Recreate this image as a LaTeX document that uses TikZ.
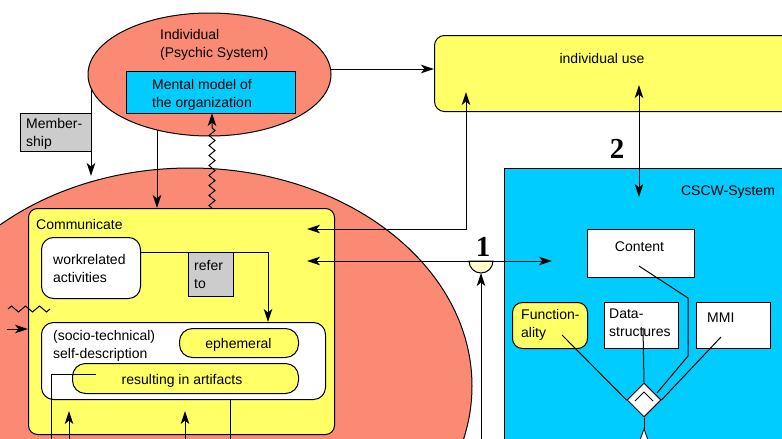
\documentclass[tikz,border=0pt]{standalone}
\usepackage{fontspec}
\setmainfont{Liberation Sans}
\newfontfamily\numfont{Liberation Serif}
\usetikzlibrary{arrows.meta,decorations.pathmorphing,shapes.geometric}

\definecolor{salmon}{RGB}{250,138,116}
\definecolor{yel}{RGB}{255,255,102}
\definecolor{lightyel}{RGB}{255,255,204}
\definecolor{sky}{RGB}{0,204,255}
\definecolor{greybox}{RGB}{204,204,204}

\tikzset{
  ln/.style={line width=1pt},
  tip/.tip={Stealth[length=13pt,width=8.5pt,inset=3.5pt]},
  arr/.style={ln,-tip},
  arrs/.style={ln,tip-tip},
  shapebox/.style={draw,line width=1pt,inner sep=0pt,anchor=north west},
  lbl/.style={font=\fontsize{14}{17}\selectfont,inner sep=0pt,anchor=base west},
  lblc/.style={font=\fontsize{14}{17}\selectfont,inner sep=0pt,anchor=base},
  num/.style={font=\numfont\bfseries\fontsize{29}{30}\selectfont,inner sep=0pt,anchor=base},
  zz/.style={ln,decorate,decoration={zigzag,segment length=10pt,amplitude=3pt}},
}

\begin{document}
\begin{tikzpicture}[x=1pt,y=-1pt]
\useasboundingbox (0,0) rectangle (782,439);
\begin{scope}
\clip (0,0) rectangle (782,439);

% organisation (social system) and the individual
\node[ellipse,draw,ln,fill=salmon,minimum width=564,minimum height=436,inner sep=0pt] (org) at (190,386) {};
\node[ellipse,draw,ln,fill=salmon,minimum width=243,minimum height=123,inner sep=0pt] (indiv) at (209.5,74.5) {};
\node[lbl] (indivtxt) at (160,39) {Individual};
\node[lbl] (psychtxt) at (160,57) {(Psychic System)};

\node[shapebox,fill=sky,minimum width=169,minimum height=42] (mental) at (126,71) {};
\node[lbl] (mental1) at (152,89) {Mental model of};
\node[lbl] (mental2) at (152,107) {the organization};

\node[shapebox,fill=greybox,minimum width=71,minimum height=38] (member) at (20,113) {};
\node[lbl] (member1) at (26,128) {Member-};
\node[lbl] (member2) at (26,146) {ship};

% communication inside the organisation
\node[shapebox,fill=yel,rounded corners=9pt,minimum width=306,minimum height=226] (comm) at (28,208) {};
\node[lbl] (commtxt) at (36,229) {Communicate};

\node[shapebox,fill=white,rounded corners=12pt,minimum width=99,minimum height=61] (work) at (41,237) {};
\node[lbl] (work1) at (53,264) {workrelated};
\node[lbl] (work2) at (53,282) {activities};

\node[shapebox,fill=greybox,minimum width=45,minimum height=44] (refer) at (188,252) {};
\node[lbl] (refer1) at (194,270) {refer};
\node[lbl] (refer2) at (194,288) {to};

\node[shapebox,fill=white,rounded corners=12pt,minimum width=284,minimum height=77] (self) at (41,322) {};
\node[lbl] (self1) at (53,340) {(socio-technical)};
\node[lbl] (self2) at (53,358) {self-description};

\node[shapebox,fill=yel,rounded corners=13pt,minimum width=119,minimum height=29] (ephem) at (179,328) {};
\node[lblc] (ephemtxt) at (238.5,348) {ephemeral};

\node[shapebox,fill=yel,rounded corners=13pt,minimum width=226,minimum height=30] (artif) at (72,363) {};
\node[lblc] (artiftxt) at (182,384) {resulting in artifacts};

% individual use and the CSCW system
\node[shapebox,fill=yel,rounded corners=10pt,minimum width=380,minimum height=76] (iuse) at (434,35) {};
\node[lblc] (iusetxt) at (602,63) {individual use};

\node[shapebox,fill=sky,minimum width=300,minimum height=300] (cscw) at (504,168) {};
\node[lblc] (cscwtxt) at (728,195) {CSCW-System};

\node[shapebox,fill=white,minimum width=107,minimum height=48] (content) at (587,229) {};
\node[lblc] (contenttxt) at (639.5,251) {Content};

\node[shapebox,fill=yel,rounded corners=10pt,minimum width=75,minimum height=46] (func) at (512,302) {};
\node[lbl] (func1) at (521,319) {Function-};
\node[lbl] (func2) at (521,337) {ality};

\node[shapebox,fill=white,minimum width=74,minimum height=46] (data) at (604,302) {};
\node[lbl] (data1) at (609,318) {Data-};
\node[lbl] (data2) at (609,336) {structures};

\node[shapebox,fill=white,minimum width=74,minimum height=46] (mmi) at (696,302) {};
\node[lbl] (mmitxt) at (707,322) {MMI};

\node[diamond,draw,ln,fill=white,minimum width=34,minimum height=34,inner sep=0pt] (dia) at (644,400) {};
\draw[ln] ([shift={(-9,1)}]dia.center) -- ([shift={(0,-8)}]dia.center) -- ([shift={(9,1)}]dia.center);

% interface point 1
\coordinate (p1) at (481,261);
\draw[ln,fill=lightyel] (469,261) arc (180:0:12) -- cycle;
\node[num] (one) at (483,256) {1};
\node[num] (two) at (617,158) {2};

% connector end points
\coordinate (memtop) at (91,88);
\coordinate (memend) at (91,176);
\coordinate (indbot) at (157,130);
\coordinate (commtop) at (157,208);
\coordinate (zzlow) at (212,208);
\coordinate (zztop) at (212,113);
\coordinate (indright) at (331,69);
\coordinate (iusein) at (466,92);
\coordinate (commin1) at (307,229);
\coordinate (commin2) at (307,261);
\coordinate (cscwin) at (552,261);
\coordinate (iusein2) at (639,85);
\coordinate (cscwin2) at (639,197);
\coordinate (workout) at (140,252);
\coordinate (selfin) at (268,322);
\coordinate (artout) at (96,374);
\coordinate (artcorner) at (51,374);
\coordinate (artdown) at (51,439);
\coordinate (low1) at (69,439);
\coordinate (up1) at (69,411);
\coordinate (low2) at (185,439);
\coordinate (up2) at (185,411);
\coordinate (selfout) at (230,399);
\coordinate (selfdown) at (230,439);
\coordinate (p1low) at (481,439);
\coordinate (p1up) at (481,273);
\coordinate (zzl1) at (8,309);
\coordinate (zzl2) at (50,309);
\coordinate (lin1) at (7,329);
\coordinate (lin2) at (28,329);

% connectors around the individual
\draw[arr] (memtop) -- (memend);
\draw[arr] (indbot) -- (commtop);
\draw[zz,decoration={post length=12pt},-tip] (zzlow) -- (zztop);
\draw[arr] (indright) -- (iuse.west |- indright);
\draw[arrs] (commin1) -| (iusein);
\draw[arrs] (iusein2) -- (cscwin2);
\draw[arrs] (commin2) -- (cscwin);
\draw[arr] (p1low) -- (p1up);

% connectors inside the communication
\draw[ln,-tip] (workout) -| (selfin);
\draw[ln] (artout) -- (artcorner) -- (artdown);
\draw[arr] (low1) -- (up1);
\draw[arr] (low2) -- (up2);
\draw[ln] (selfout) -- (selfdown);
\draw[zz,decoration={segment length=14pt}] (zzl1) -- (zzl2);
\draw[arr] (lin1) -- (lin2);

% composition of the CSCW system
\draw[ln] (639,266) -- (688,298) -- (688,356) -- (657,393);
\draw[ln] (562,335) -- (dia.west);
\draw[ln] (643,328) -- (dia.north);
\draw[ln] (721,337) -- (dia.east);
\draw[ln] (dia.south) -- (644,431);
\draw[line width=0.8pt,fill=white] (644,429) -- (640,440) -- (648,440) -- cycle;
\end{scope}
\end{tikzpicture}
\end{document}
